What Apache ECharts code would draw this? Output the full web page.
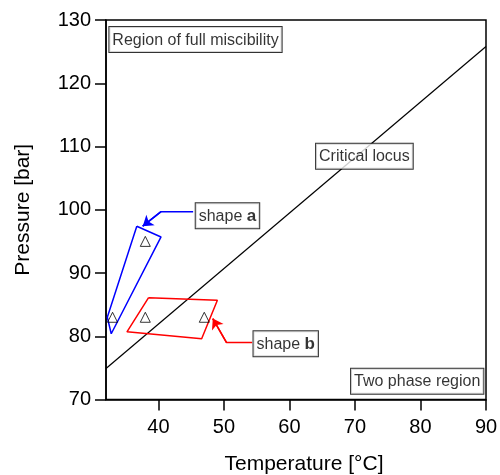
<!DOCTYPE html>
<html>
<head>
<meta charset="utf-8">
<script src="https://cdn.jsdelivr.net/npm/echarts@6/dist/echarts.min.js"></script>
<style>html,body{margin:0;padding:0;background:#fff;}#chart{width:500px;height:475px;}</style>
</head>
<body>
<div id="chart"></div>
<script>
// ---- data ----
const xTicks = [40, 50, 60, 70, 80, 90];
const yTicks = [70, 80, 90, 100, 110, 120, 130];
const triangleT = [38, 33, 38, 47];
const triangleP = [95, 83, 83, 83];
const criticalLocusT = [32, 90];
const criticalLocusP = [74.9, 125.8];
const shapeA = [[36.7, 97.4], [40.4, 95.7], [32.8, 80.4], [32.2, 83.0]];
const shapeB = [[38.5, 86.1], [49.0, 85.7], [46.6, 79.6], [35.2, 80.7]];
const arrowA = [[45.3, 99.7], [40.4, 99.7], [37.6, 97.4]];
const arrowB = [[54.3, 79.0], [50.4, 79.0], [48.3, 82.8]];
const annotationTexts = ['Region of full miscibility', 'Critical locus', '{n|shape }{b|a}', '{n|shape }{b|b}', 'Two phase region'];
const annotationAnchors = [[45.66, 126.9], [71.44, 108.47], [50.54, 99.04], [59.43, 78.82], [79.5, 72.88]];

const FONT = 'Liberation Sans, Arial, Helvetica, sans-serif';
const closed = pts => pts.concat([pts[0]]);

function arrowSeries(pts, color) {
  return {
    type: 'line', data: pts, symbol: 'none', silent: true, z: 4,
    lineStyle: { color: color, width: 1.5 },
    markLine: {
      silent: true, animation: false, symbolSize: 10,
      label: { show: false },
      lineStyle: { color: color, width: 1.5, type: 'solid' },
      data: [[{ coord: pts[1], symbol: 'none' }, { coord: pts[2], symbol: 'arrow' }]]
    }
  };
}

const chart = echarts.init(document.getElementById('chart'), null, { renderer: 'canvas' });
chart.setOption({
  animation: false,
  backgroundColor: '#fff',
  grid: { left: 106, right: 14, top: 20, bottom: 75.5, outerBoundsMode: 'none', containLabel: false,
          show: true, borderColor: '#000', borderWidth: 1.5, backgroundColor: 'transparent' },
  xAxis: {
    type: 'value', min: 32, max: 90,
    name: 'Temperature [°C]', nameLocation: 'middle', nameGap: 54,
    nameTextStyle: { fontFamily: FONT, fontSize: 21, color: '#000', padding: [0, 0, 0, 16] },
    axisLine: { onZero: false, lineStyle: { color: '#000', width: 1.5 } },
    axisTick: { show: true, length: 11, customValues: xTicks, lineStyle: { color: '#000', width: 1.5 } },
    axisLabel: { customValues: xTicks, margin: 18, fontFamily: FONT, fontSize: 20, color: '#000' },
    splitLine: { show: false }
  },
  yAxis: {
    type: 'value', min: 70, max: 130, interval: 10,
    name: 'Pressure [bar]', nameLocation: 'middle', nameGap: 72,
    nameTextStyle: { fontFamily: FONT, fontSize: 21, color: '#000' },
    axisLine: { show: true, onZero: false, lineStyle: { color: '#000', width: 1.5 } },
    axisTick: { show: true, length: 11, customValues: yTicks, lineStyle: { color: '#000', width: 1.5 } },
    axisLabel: { customValues: yTicks, margin: 15, fontFamily: FONT, fontSize: 20, color: '#000' },
    splitLine: { show: false }
  },
  series: [
    {
      type: 'line', symbol: 'none', silent: true, z: 2,
      data: criticalLocusT.map((t, i) => [t, criticalLocusP[i]]),
      lineStyle: { color: '#000', width: 1.2 }
    },
    {
      type: 'line', symbol: 'none', silent: true, z: 3,
      data: closed(shapeA), lineStyle: { color: '#0000ff', width: 1.5 }
    },
    {
      type: 'line', symbol: 'none', silent: true, z: 3,
      data: closed(shapeB), lineStyle: { color: '#ff0000', width: 1.5 }
    },
    arrowSeries(arrowA, '#0000ff'),
    arrowSeries(arrowB, '#ff0000'),
    {
      type: 'scatter', symbol: 'triangle', symbolSize: 10, silent: true, z: 5,
      data: triangleT.map((t, i) => [t, triangleP[i]]),
      itemStyle: { color: 'rgba(255,255,255,0)', borderColor: '#000', borderWidth: 1 }
    },
    {
      type: 'scatter', symbolSize: 1, silent: true, z: 10,
      itemStyle: { color: 'rgba(0,0,0,0)' },
      data: annotationAnchors.map((a, i) => ({ value: a, text: annotationTexts[i] })),
      label: {
        show: true, position: 'inside', align: 'center', verticalAlign: 'middle',
        formatter: p => p.data.text,
        fontFamily: FONT, fontSize: 16, color: '#000', lineHeight: 18,
        backgroundColor: '#fff', borderColor: '#000', borderWidth: 1,
        padding: [4, 3, 3, 3],
        rich: {
          n: { fontFamily: FONT, fontSize: 16, color: '#000' },
          b: { fontFamily: FONT, fontSize: 17, fontWeight: 'bold', color: '#000' }
        }
      }
    }
  ]
});
</script>
</body>
</html>
